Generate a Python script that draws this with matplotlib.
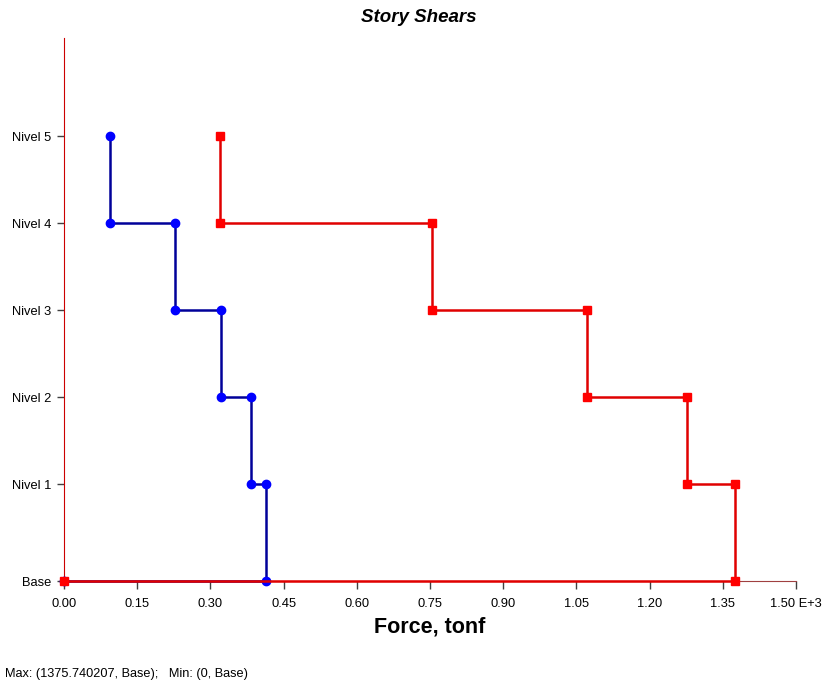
import numpy as np
import matplotlib.pyplot as plt

plt.rcParams['font.family'] = ['Liberation Sans', 'DejaVu Sans']

# story labels and elevations (m)
stories = ['Base', 'Nivel 1', 'Nivel 2', 'Nivel 3', 'Nivel 4', 'Nivel 5']
elev = [0.0, 3.9, 7.4, 10.9, 14.4, 17.9]

# story shears (tonf), from Base up to Nivel 5
shear_blue = [414, 383, 322, 228, 94]
shear_red = [1375.74, 1277, 1072, 754, 320]

xticks = [0.0, 0.15, 0.30, 0.45, 0.60, 0.75, 0.90, 1.05, 1.20, 1.35, 1.50]
xticklabels = ['0.00', '0.15', '0.30', '0.45', '0.60', '0.75', '0.90', '1.05', '1.20', '1.35', '1.50 E+3']


def steps(shear):
    """build step line (x in E+3 tonf) from top story down to base"""
    xs, ys = [], []
    n = len(shear)
    for i in range(n - 1, -1, -1):
        v = shear[i] / 1000.0
        xs += [v, v]
        ys += [elev[i + 1], elev[i]]
    xs.append(0.0)
    ys.append(elev[0])
    return xs, ys


fig = plt.figure(figsize=(8.37, 6.82), dpi=100)
ax = fig.add_axes([0.0765, 0.148, 0.8745, 0.796])

bx, by = steps(shear_blue)
rx, ry = steps(shear_red)
ax.plot(bx, by, color='#000099', lw=1.8, marker='o', ms=6,
        mfc='#0000ff', mec='#0000ff', clip_on=False, zorder=3)
ax.plot(rx, ry, color='#e00000', lw=1.8, marker='s', ms=5.5,
        mfc='#ff0000', mec='#ff0000', clip_on=False, zorder=4)

ax.set_xlim(0, 1.5)
ax.set_ylim(0, 21.85)
ax.set_xticks(xticks)
ax.set_xticklabels(xticklabels, fontsize=9.3)
ax.set_yticks(elev)
ax.set_yticklabels(stories, fontsize=9.3)
ax.tick_params(axis='x', direction='out', length=6, width=1, color='#404040', pad=6)
ax.tick_params(axis='y', direction='out', length=5, width=1, color='#404040', pad=4)

ax.spines['top'].set_visible(False)
ax.spines['right'].set_visible(False)
ax.spines['left'].set_color('#cc0000')
ax.spines['bottom'].set_color('#a04040')

ax.set_xlabel('Force, tonf', fontsize=15.5, fontweight='bold', labelpad=5)
fig.text(0.5, 0.974, 'Story Shears', ha='center', va='center',
         fontsize=13.5, style='italic', fontweight='semibold')
fig.text(0.006, 0.008, 'Max: (1375.740207, Base);   Min: (0, Base)', fontsize=9.2)

plt.savefig('out.png', dpi=100)
